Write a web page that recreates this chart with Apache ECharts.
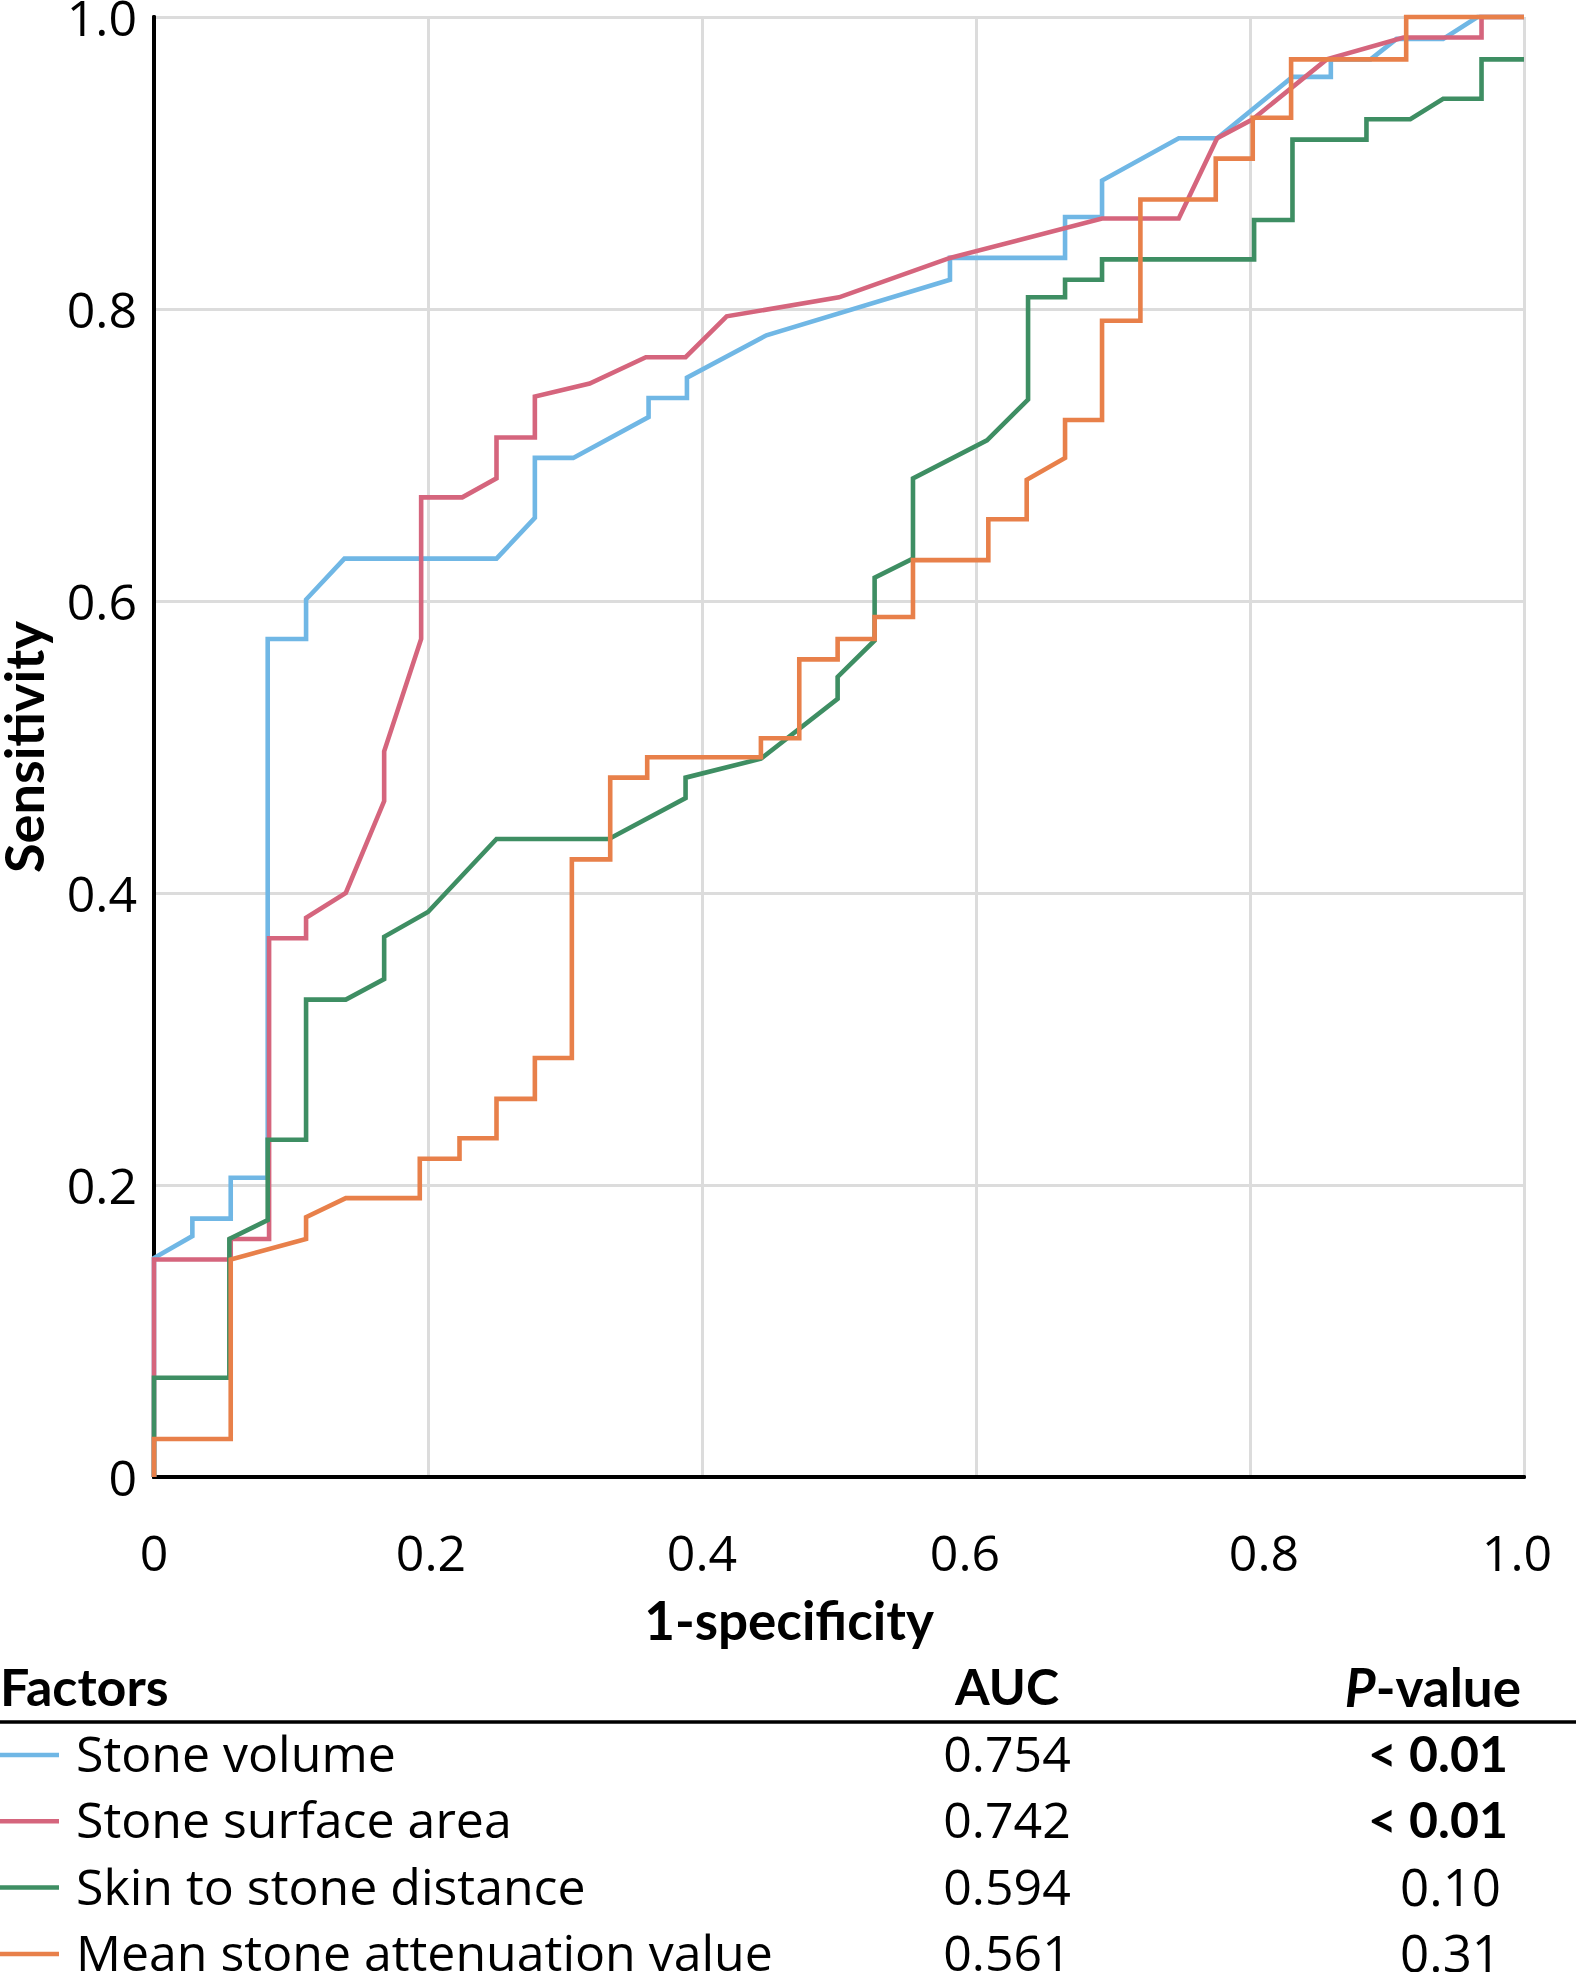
<!DOCTYPE html>
<html>
<head>
<meta charset="utf-8">
<script src="https://cdn.jsdelivr.net/npm/echarts@6/dist/echarts.min.js"></script>
<style>
  html, body { margin: 0; padding: 0; background: #ffffff; }
  #chart { width: 1576px; height: 1972px; }
</style>
</head>
<body>
<div id="chart"></div>
<script>
// ---------------- data ----------------
const factorNames = ['Stone volume', 'Stone surface area', 'Skin to stone distance', 'Mean stone attenuation value'];
const aucValues = ['0.754', '0.742', '0.594', '0.561'];
const pValues = ['< 0.01', '< 0.01', '0.10', '0.31'];
const pSignificant = [true, true, false, false];
const seriesColors = ['#70b7e5', '#d5657d', '#3e8e63', '#e8804a'];
const xTickLabels = ['0', '0.2', '0.4', '0.6', '0.8', '1.0'];
const yTickLabels = ['0', '0.2', '0.4', '0.6', '0.8', '1.0'];

// ROC points: [1-specificity, sensitivity]
const volumeROC = [[0,0],[0,0.150],[0.028,0.165],[0.028,0.177],[0.056,0.177],[0.056,0.205],[0.083,0.205],[0.083,0.574],[0.111,0.574],[0.111,0.601],[0.139,0.629],[0.250,0.629],[0.278,0.657],[0.278,0.698],[0.306,0.698],[0.361,0.726],[0.361,0.739],[0.389,0.739],[0.389,0.753],[0.447,0.782],[0.581,0.820],[0.581,0.835],[0.665,0.835],[0.665,0.863],[0.692,0.863],[0.692,0.888],[0.748,0.917],[0.776,0.917],[0.831,0.959],[0.859,0.959],[0.859,0.971],[0.888,0.971],[0.907,0.985],[0.941,0.985],[0.966,1.0],[1.0,1.0]];

const surfaceROC = [[0,0],[0,0.149],[0.056,0.149],[0.056,0.163],[0.084,0.163],[0.084,0.369],[0.111,0.369],[0.111,0.383],[0.140,0.400],[0.168,0.463],[0.168,0.497],[0.195,0.574],[0.195,0.671],[0.225,0.671],[0.250,0.684],[0.250,0.712],[0.278,0.712],[0.278,0.740],[0.318,0.749],[0.359,0.767],[0.388,0.767],[0.418,0.795],[0.500,0.808],[0.581,0.835],[0.692,0.862],[0.748,0.862],[0.776,0.917],[0.802,0.930],[0.856,0.971],[0.912,0.986],[0.969,0.986],[0.969,1.0],[1.0,1.0]];

const distanceROC = [[0,0],[0,0.068],[0.055,0.068],[0.055,0.163],[0.083,0.176],[0.083,0.231],[0.111,0.231],[0.111,0.327],[0.140,0.327],[0.168,0.341],[0.168,0.370],[0.200,0.387],[0.250,0.437],[0.332,0.437],[0.388,0.465],[0.388,0.479],[0.443,0.492],[0.499,0.533],[0.499,0.548],[0.526,0.573],[0.526,0.616],[0.554,0.629],[0.554,0.684],[0.608,0.710],[0.638,0.738],[0.638,0.808],[0.665,0.808],[0.665,0.820],[0.692,0.820],[0.692,0.834],[0.803,0.834],[0.803,0.861],[0.831,0.861],[0.831,0.916],[0.885,0.916],[0.885,0.930],[0.917,0.930],[0.941,0.944],[0.969,0.944],[0.969,0.971],[1.0,0.971]];

const attenuationROC = [[0,0],[0,0.026],[0.056,0.026],[0.056,0.149],[0.111,0.163],[0.111,0.178],[0.140,0.191],[0.194,0.191],[0.194,0.218],[0.223,0.218],[0.223,0.232],[0.250,0.232],[0.250,0.259],[0.278,0.259],[0.278,0.287],[0.305,0.287],[0.305,0.423],[0.333,0.423],[0.333,0.479],[0.360,0.479],[0.360,0.493],[0.443,0.493],[0.443,0.506],[0.471,0.506],[0.471,0.560],[0.499,0.560],[0.499,0.574],[0.526,0.574],[0.526,0.589],[0.554,0.589],[0.554,0.628],[0.609,0.628],[0.609,0.656],[0.637,0.656],[0.637,0.683],[0.665,0.698],[0.665,0.724],[0.692,0.724],[0.692,0.792],[0.720,0.792],[0.720,0.875],[0.775,0.875],[0.775,0.903],[0.802,0.903],[0.802,0.931],[0.830,0.931],[0.830,0.971],[0.914,0.971],[0.914,1.0],[1.0,1.0]];

const rocData = [volumeROC, surfaceROC, distanceROC, attenuationROC];

// ---------------- chart ----------------
const FONT = '"Open Sans"';
const BFONT = 'Lato';
const chart = echarts.init(document.getElementById('chart'), null, { renderer: 'svg' });

const gridLeft = 154, gridTop = 17, gridW = 1370, gridH = 1460;

function tickFmt(labels, richPrefix) {
  return function (v) {
    const i = Math.round(v / 0.2);
    if (labels[i] === undefined) return '';
    return richPrefix ? '{' + richPrefix + i + '|' + labels[i] + '}' : labels[i];
  };
}

// small horizontal nudges of individual x tick labels, as in the original figure
const xLabelRich = {};
const xLabelPads = [[0,0,0,0],[0,0,0,6],[0,0,0,0],[0,22,0,0],[0,0,0,28],[0,14,0,0]];
xLabelPads.forEach((p, i) => {
  xLabelRich['x' + i] = { fontSize: 50, fontFamily: FONT, color: '#000', padding: p };
});

const frameLine = { show: true, lineStyle: { color: '#000', width: 4 } };
const splitGray = { show: true, lineStyle: { color: '#dcdcdc', width: 3 } };

const series = rocData.map((d, i) => ({
  name: factorNames[i],
  type: 'line',
  data: d,
  xAxisIndex: 0,
  yAxisIndex: 0,
  symbol: 'none',
  showSymbol: false,
  clip: false,
  lineStyle: { color: seriesColors[i], width: 4.6, join: 'miter' },
  itemStyle: { color: seriesColors[i] },
  z: 3 + i,
  animation: false
}));

// titles and table
const graphic = [];
graphic.push({
  type: 'text', x: 789, y: 1619,
  style: { text: '1-specificity', font: 'bold 53px ' + BFONT, fill: '#000', textAlign: 'center', textVerticalAlign: 'middle' }
});
graphic.push({
  type: 'text', x: 23, y: 747, rotation: Math.PI / 2,
  style: { text: 'Sensitivity', font: 'bold 54px ' + BFONT, fill: '#000', textAlign: 'center', textVerticalAlign: 'middle' }
});
graphic.push({
  type: 'text', x: 0, y: 1686,
  style: { text: 'Factors', font: 'bold 52px ' + BFONT, fill: '#000', textAlign: 'left', textVerticalAlign: 'middle' }
});
graphic.push({
  type: 'text', x: 1007, y: 1686,
  style: { text: 'AUC', font: 'bold 50px ' + BFONT, fill: '#000', textAlign: 'center', textVerticalAlign: 'middle' }
});
graphic.push({
  type: 'text', x: 1521, y: 1686,
  style: {
    text: '{it|P}{b|-value}', fill: '#000', textAlign: 'right', textVerticalAlign: 'middle',
    rich: {
      it: { fontFamily: BFONT, fontSize: 53, fontWeight: 'bold', fontStyle: 'italic', fill: '#000' },
      b: { fontFamily: BFONT, fontSize: 53, fontWeight: 'bold', fill: '#000' }
    }
  }
});
graphic.push({
  type: 'line', shape: { x1: 0, y1: 1722, x2: 1576, y2: 1722 },
  style: { stroke: '#000', lineWidth: 3.5 }
});
const rowY0 = 1755, rowStep = 66.3;
factorNames.forEach((name, i) => {
  const y = rowY0 + i * rowStep;
  graphic.push({
    type: 'line', shape: { x1: 0, y1: y, x2: 59, y2: y },
    style: { stroke: seriesColors[i], lineWidth: 4.5 }
  });
  graphic.push({
    type: 'text', x: 76, y: y - 2,
    style: { text: name, font: '50px ' + FONT, fill: '#000', textAlign: 'left', textVerticalAlign: 'middle' }
  });
  graphic.push({
    type: 'text', x: 1007, y: y - 2,
    style: { text: aucValues[i], font: '50px ' + FONT, fill: '#000', textAlign: 'center', textVerticalAlign: 'middle' }
  });
  graphic.push({
    type: 'text', x: pSignificant[i] ? 1508 : 1501, y: y - 2,
    style: { text: pValues[i], font: (pSignificant[i] ? 'bold 50px ' + BFONT : '51px ' + FONT), fill: '#000', textAlign: 'right', textVerticalAlign: 'middle' }
  });
});

const option = {
  backgroundColor: '#ffffff',
  animation: false,
  textStyle: { fontFamily: FONT },
  grid: { left: gridLeft, top: gridTop, width: gridW, height: gridH, containLabel: false, outerBoundsMode: 'none' },
  xAxis: [
    {
      type: 'value', min: 0, max: 1, interval: 0.2, position: 'bottom',
      axisLine: frameLine, axisTick: { show: false }, splitLine: splitGray,
      axisLabel: { show: true, formatter: tickFmt(xTickLabels, 'x'), rich: xLabelRich, fontSize: 50, color: '#000', fontFamily: FONT, margin: 50 }
    },
    {
      type: 'value', min: 0, max: 1, interval: 0.2, position: 'top',
      axisLine: frameLine, axisTick: { show: false }, splitLine: { show: false }, axisLabel: { show: false }
    }
  ],
  yAxis: [
    {
      type: 'value', min: 0, max: 1, interval: 0.2, position: 'left',
      axisLine: frameLine, axisTick: { show: false }, splitLine: splitGray,
      axisLabel: { show: true, formatter: tickFmt(yTickLabels, null), fontSize: 50, color: '#000', fontFamily: FONT, margin: 17 }
    },
    {
      type: 'value', min: 0, max: 1, interval: 0.2, position: 'right',
      axisLine: frameLine, axisTick: { show: false }, splitLine: { show: false }, axisLabel: { show: false }
    }
  ],
  series: series,
  graphic: graphic
};

chart.setOption(option);
</script>
</body>
</html>
